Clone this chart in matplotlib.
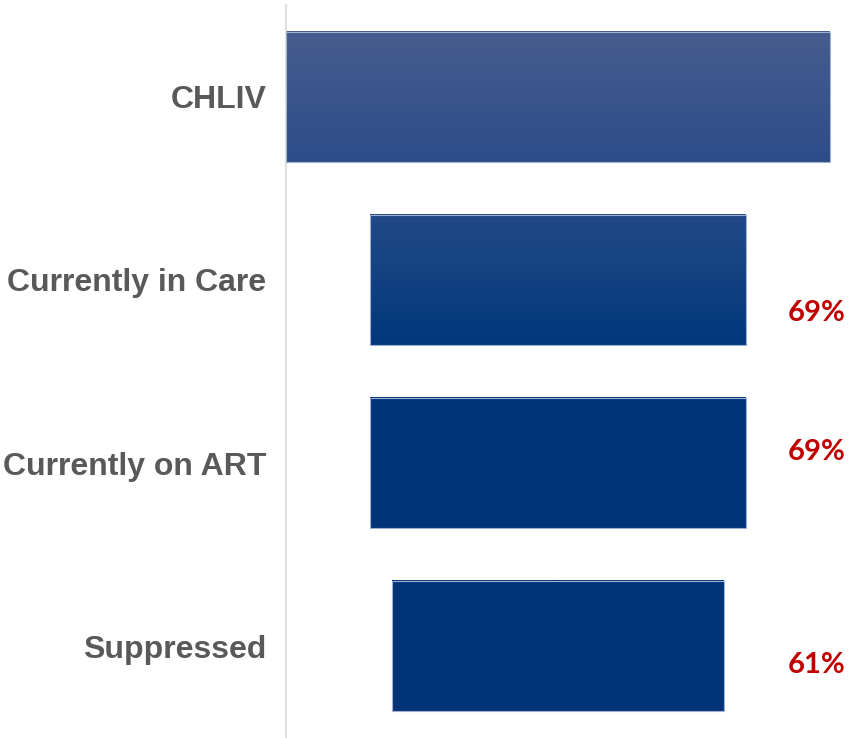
import numpy as np
import matplotlib
matplotlib.use("Agg")
import matplotlib.pyplot as plt
from matplotlib.colors import LinearSegmentedColormap

# === data ===
categories = ["CHLIV", "Currently in Care", "Currently on ART", "Suppressed"]
values = [100, 69, 69, 61]          # share of CHLIV, %
pct_labels = ["", "69%", "69%", "61%"]
pct_label_y = [None, 1.18, 1.94, 3.10]

# gradient running down the whole chart (top lighter, bottom dark navy)
grad = LinearSegmentedColormap.from_list(
    "funnel", [(0.0, "#475c8e"), (0.38, "#2b4b88"), (0.55, "#1c4784"),
               (0.80, "#04397d"), (1.0, "#003478")])
g_top, g_bot = -0.36, 1.7

fig = plt.figure(figsize=(8.49, 7.38), dpi=100)
ax = fig.add_axes([286 / 849, 0, 563 / 849, 733 / 738])

y = np.arange(len(categories))
h = 0.71
for yi, v in zip(y, values):
    left, right = -v / 2, v / 2
    top, bot = yi - h / 2, yi + h / 2
    rows = np.linspace(top, bot, 200)
    frac = np.clip((rows - g_top) / (g_bot - g_top), 0, 1)
    ax.imshow(frac[:, None], cmap=grad, vmin=0, vmax=1, aspect="auto",
              extent=[left, right, bot, top], interpolation="bilinear", zorder=2)
bars = ax.barh(y, values, left=[-v / 2 for v in values], height=h,
               facecolor="none", edgecolor="#9fb0d0", linewidth=0.8, zorder=3)

for lbl, ly in zip(pct_labels, pct_label_y):
    if lbl:
        ax.text(52.9, ly, lbl, ha="right", va="center", color="#c00000",
                fontsize=21, fontweight="bold", family="Lato")

ax.set_xlim(-50, 53.5)
ax.set_ylim(3.5, -0.5)
ax.set_yticks(y)
ax.set_yticklabels(categories, fontsize=23, fontweight="bold",
                   color="#595959", family="Liberation Sans")
ax.tick_params(axis="y", length=0, pad=14)
ax.set_xticks([])
for s in ["top", "right", "bottom"]:
    ax.spines[s].set_visible(False)
ax.spines["left"].set_color("#d9d9d9")
ax.spines["left"].set_linewidth(1.2)

fig.savefig("out.png", dpi=100)
